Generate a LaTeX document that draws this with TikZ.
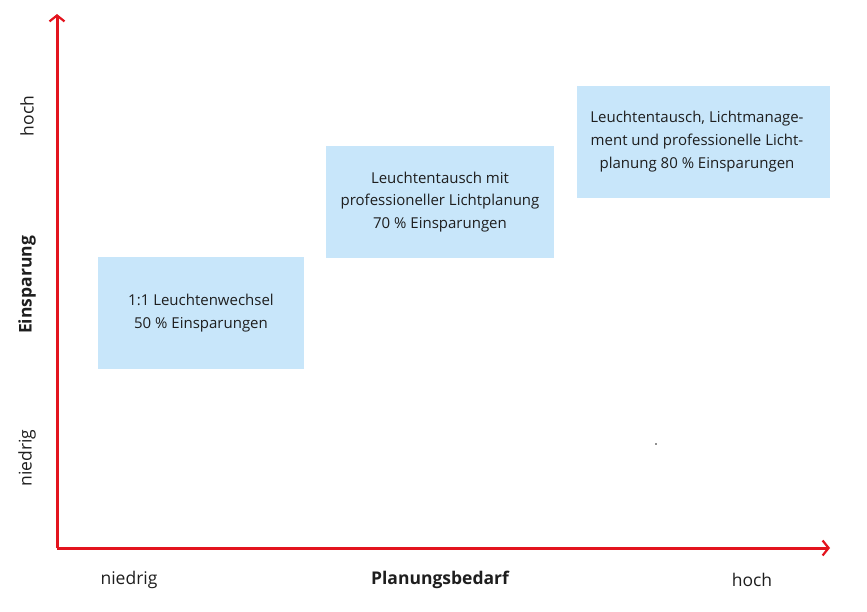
\documentclass[tikz,border=0pt]{standalone}
\usepackage{fontspec}
\setmainfont{Open Sans}
\usetikzlibrary{arrows.meta}
\definecolor{axred}{HTML}{E3141E}
\definecolor{boxblue}{HTML}{C8E6FA}
\definecolor{txt}{HTML}{1E1E1E}
\begin{document}
\begin{tikzpicture}[x=1pt,y=-1pt,
  axis/.style={draw=axred,line width=3pt,-{Straight Barb[length=6pt,width=15pt,line width=2.2pt]}},
  stage/.style={fill=boxblue,inner sep=0pt,anchor=north west},
  stagetext/.style={text=txt,font=\fontsize{15}{22.8}\selectfont,align=center},
  axlabel/.style={text=txt,font=\fontsize{17.5}{20}\selectfont},
  axtitle/.style={text=txt,font=\fontsize{17.5}{20}\selectfont\bfseries}]
\useasboundingbox (0,0) rectangle (867,611);
% boxes
\node[stage,minimum width=206pt,minimum height=112pt] (b1) at (98,257) {};
\node[stage,minimum width=228pt,minimum height=112pt] (b2) at (326,146) {};
\node[stage,minimum width=253pt,minimum height=112pt] (b3) at (577,86) {};
\node[stagetext] (t1) at (201,313) {1:1 Leuchtenwechsel\\50 \% Einsparungen};
\node[stagetext] (t2) at (440,202) {Leuchtentausch mit\\professioneller Lichtplanung\\70 \% Einsparungen};
\node[stagetext] (t3) at (697,141.5) {Leuchtentausch, Lichtmanage-\\ment und professionelle Licht-\\planung 80 \% Einsparungen};
% axes
\coordinate (O) at (57,548);
\coordinate (ytop) at (57,14);
\coordinate (xend) at (830,548);
\draw[axis] (O) -- (ytop);
\draw[axis] (O) -- (xend);
% axis labels
\node[axlabel,rotate=90] (yh) at (27,116) {hoch};
\node[axtitle,rotate=90] (yt) at (27,285) {Einsparung};
\node[axlabel,rotate=90] (yn) at (27,458) {niedrig};
\node[axlabel] (xn) at (129,580) {niedrig};
\node[axtitle] (xt) at (440,580) {Planungsbedarf};
\node[axlabel] (xh) at (752,580) {hoch};
% stray dot
\fill[txt] (656,444) circle (0.8pt);
\end{tikzpicture}
\end{document}
